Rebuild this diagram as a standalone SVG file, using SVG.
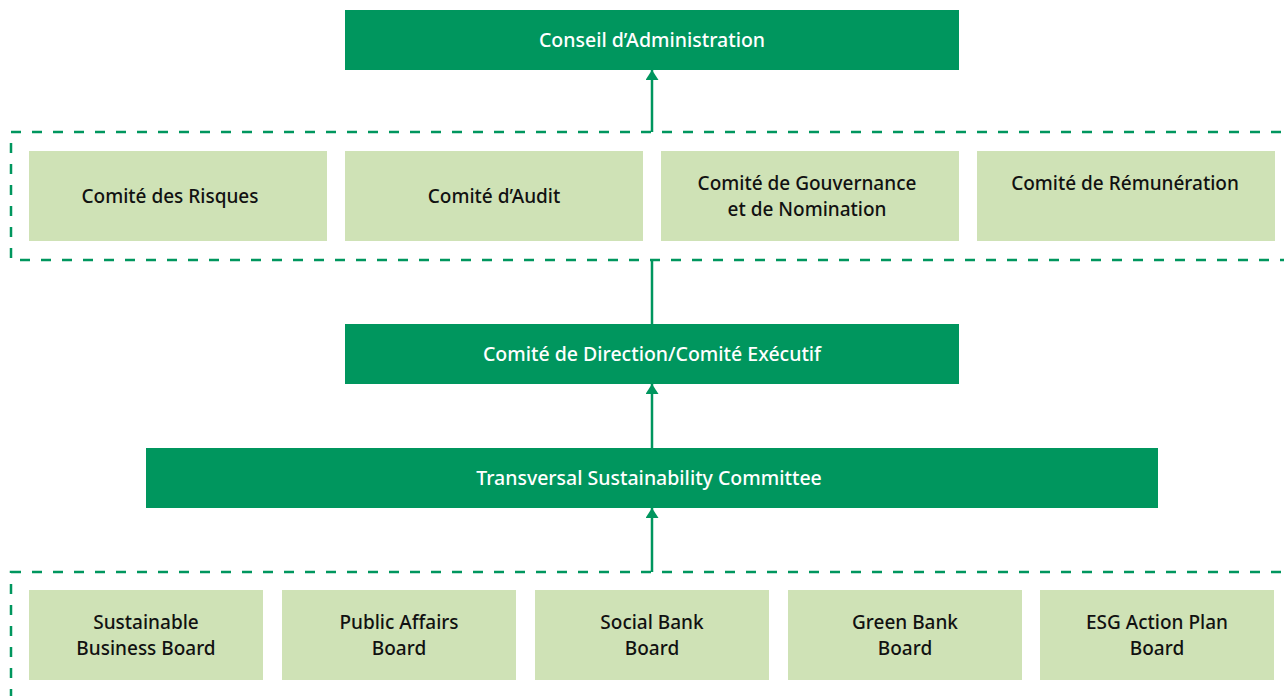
<svg xmlns="http://www.w3.org/2000/svg" width="1284" height="696" viewBox="0 0 1284 696">
<style>
.dark{fill:#00965e}
.light{fill:#cfe2b6}
.wt{fill:#ffffff;font-family:"Noto Sans","Liberation Sans",sans-serif;font-size:19.5px;font-weight:500;text-anchor:middle}
.bt{fill:#111111;font-family:"Noto Sans","Liberation Sans",sans-serif;font-size:19px;font-weight:500;text-anchor:middle}
.dash{fill:none;stroke:#00965e;stroke-width:2.5;stroke-dasharray:10 11}
.conn{stroke:#00965e;stroke-width:2.5;fill:none}
</style>
<defs>
<marker id="arr" viewBox="0 0 10 13" refX="10" refY="6.5" markerWidth="10" markerHeight="13" markerUnits="userSpaceOnUse" orient="auto">
<path d="M0,0 L10,6.5 L0,13 Z" fill="#00965e"/>
</marker>
</defs>
<g id="group-committees"><rect class="dash" x="11" y="132" width="1300" height="128"/></g>
<g id="group-boards"><rect class="dash" x="11" y="572" width="1300" height="160"/></g>
<g id="connectors">
<line class="conn" x1="652" y1="132" x2="652" y2="70" marker-end="url(#arr)"/>
<line class="conn" x1="652" y1="260" x2="652" y2="324"/>
<line class="conn" x1="652" y1="448" x2="652" y2="384" marker-end="url(#arr)"/>
<line class="conn" x1="652" y1="572" x2="652" y2="508" marker-end="url(#arr)"/>
</g>
<g id="conseil"><rect class="dark" x="345" y="10" width="614" height="60"/><text class="wt" x="652" y="46.5">Conseil d’Administration</text></g>
<g id="risques"><rect class="light" x="29" y="151" width="298" height="90"/><text class="bt" x="170" y="203">Comité des Risques</text></g>
<g id="audit"><rect class="light" x="345" y="151" width="298" height="90"/><text class="bt" x="494" y="203">Comité d’Audit</text></g>
<g id="gouvernance"><rect class="light" x="661" y="151" width="298" height="90"/><text class="bt" x="807" y="189.5">Comité de Gouvernance</text><text class="bt" x="807" y="215.5">et de Nomination</text></g>
<g id="remuneration"><rect class="light" x="977" y="151" width="298" height="90"/><text class="bt" x="1125" y="189.5">Comité de Rémunération</text></g>
<g id="direction"><rect class="dark" x="345" y="324" width="614" height="60"/><text class="wt" x="652" y="360.5">Comité de Direction/Comité Exécutif</text></g>
<g id="tsc"><rect class="dark" x="146" y="448" width="1012" height="60"/><text class="wt" x="649" y="484.5">Transversal Sustainability Committee</text></g>
<g id="sbb"><rect class="light" x="29" y="590" width="234" height="90"/><text class="bt" x="146" y="628.5">Sustainable</text><text class="bt" x="146" y="654.5">Business Board</text></g>
<g id="pab"><rect class="light" x="282" y="590" width="234" height="90"/><text class="bt" x="399" y="628.5">Public Affairs</text><text class="bt" x="399" y="654.5">Board</text></g>
<g id="socb"><rect class="light" x="535" y="590" width="234" height="90"/><text class="bt" x="652" y="628.5">Social Bank</text><text class="bt" x="652" y="654.5">Board</text></g>
<g id="gbb"><rect class="light" x="788" y="590" width="234" height="90"/><text class="bt" x="905" y="628.5">Green Bank</text><text class="bt" x="905" y="654.5">Board</text></g>
<g id="esg"><rect class="light" x="1040" y="590" width="234" height="90"/><text class="bt" x="1157" y="628.5">ESG Action Plan</text><text class="bt" x="1157" y="654.5">Board</text></g>
</svg>
